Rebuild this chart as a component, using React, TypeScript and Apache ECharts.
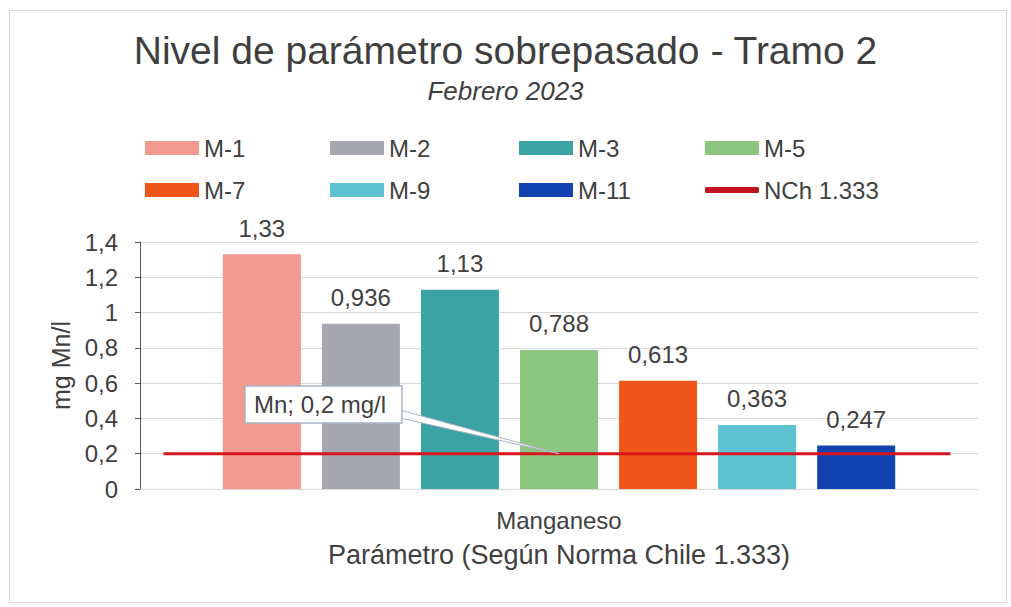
import React, { useEffect, useRef } from "react";
import * as echarts from "echarts";

const categories = ["Manganeso"];
const seriesNames = ["M-1", "M-2", "M-3", "M-5", "M-7", "M-9", "M-11"];
const seriesValues = [1.33, 0.936, 1.13, 0.788, 0.613, 0.363, 0.247];
const seriesLabels = ["1,33", "0,936", "1,13", "0,788", "0,613", "0,363", "0,247"];
const seriesColors = ["#F29990", "#A7A7AF", "#3CA3A4", "#8CC67F", "#F0561A", "#5DC2D2", "#1343B0"];
const normName = "NCh 1.333";
const normValue = 0.2;
const normSpan = [0.028, 0.967];
const calloutText = "Mn; 0,2 mg/l";
const yTicks = { min: 0, max: 1.4, interval: 0.2 };

const FONT = "'Liberation Sans', Arial, sans-serif";

export default function App() {
  const ref = useRef<HTMLDivElement>(null);
  useEffect(() => {
    if (!ref.current) return;
    const chart = echarts.init(ref.current, null, { renderer: "svg" });
    const legendCols = [145, 330, 519, 705];
    const legendRows = [136, 178];
    const allNames = [...seriesNames, normName];
    const legends = allNames.map((n, i) => ({
      data: [n],
      left: legendCols[i % 4],
      top: legendRows[Math.floor(i / 4)],
      padding: 0,
      itemWidth: 54,
      itemHeight: n === normName ? 6 : 14,
      itemGap: 0,
      icon: n === normName ? "roundRect" : "rect",
      textStyle: { fontSize: 24, color: "#404040", fontFamily: FONT },
      selectedMode: false,
    }));
    const bars = seriesNames.map((n, i) => ({
      name: n,
      type: "bar",
      xAxisIndex: 0,
      yAxisIndex: 0,
      data: [seriesValues[i]],
      barWidth: 78,
      barGap: "27%",
      itemStyle: { color: seriesColors[i] },
      label: {
        show: true,
        position: "top",
        distance: 14,
        formatter: () => seriesLabels[i],
        fontSize: 24,
        color: "#404040",
        fontFamily: FONT,
      },
    }));
    chart.setOption({
      animation: false,
      backgroundColor: "#ffffff",
      title: [
        { text: "Nivel de parámetro sobrepasado - Tramo 2", left: "center", top: 31, padding: 0, textStyle: { fontSize: 39, fontWeight: "normal", color: "#3f3f3f", fontFamily: FONT } },
        { text: "Febrero 2023", left: "center", top: 78, padding: 0, textStyle: { fontSize: 26, fontStyle: "italic", fontWeight: "normal", color: "#3f3f3f", fontFamily: FONT } },
      ],
      legend: legends,
      grid: { left: 140, right: 33, top: 242, bottom: 118 },
      xAxis: [
        {
          type: "category",
          data: categories,
          axisLine: { show: true, lineStyle: { color: "#d9d9d9" } },
          axisTick: { show: false },
          axisLabel: { fontSize: 24, color: "#404040", margin: 19, fontFamily: FONT },
          name: "Parámetro (Según Norma Chile 1.333)",
          nameLocation: "middle",
          nameGap: 52,
          nameTextStyle: { fontSize: 27, color: "#404040", fontFamily: FONT },
        },
        { type: "value", min: 0, max: 1, show: false },
      ],
      yAxis: {
        type: "value",
        min: yTicks.min,
        max: yTicks.max,
        interval: yTicks.interval,
        axisLabel: {
          fontSize: 24,
          color: "#404040",
          margin: 22,
          fontFamily: FONT,
          formatter: (v: number) => String(Number(v.toFixed(1))).replace(".", ","),
        },
        splitLine: { lineStyle: { color: "#d9d9d9", width: 1 } },
        name: "mg Mn/l",
        nameLocation: "middle",
        nameGap: 66,
        nameTextStyle: { fontSize: 25, color: "#404040", fontFamily: FONT },
      },
      series: [
        ...bars,
        {
          name: normName,
          type: "line",
          xAxisIndex: 1,
          yAxisIndex: 0,
          data: normSpan.map((x) => [x, normValue]),
          showSymbol: false,
          symbol: "none",
          lineStyle: { color: "#D8151F", width: 3 },
          itemStyle: { color: "#C0141E" },
          z: 5,
        },
      ],
    });
    const tip = chart.convertToPixel({ xAxisIndex: 1, yAxisIndex: 0 } as any, [0.5, normValue]) as number[];
    const bx = 245, by = 386, bw = 157, bh = 37;
    chart.setOption({
      graphic: [
        { type: "rect", left: 7, top: 8, shape: { x: 0, y: 0, width: 997, height: 592 }, style: { fill: "none", stroke: "#d4d6de", lineWidth: 1 }, silent: true },
        { type: "polygon", shape: { points: [[bx + bw - 2, by + 24], [bx + bw - 2, by + 32], [tip[0], tip[1]]] }, style: { fill: "#ffffff", stroke: "#aab2c2", lineWidth: 1 }, z: 10 },
        { type: "rect", shape: { x: bx, y: by, width: bw, height: bh }, style: { fill: "#ffffff", stroke: "#aab2c2", lineWidth: 1.5 }, z: 11 },
        { type: "text", x: bx + 9, y: by + bh / 2, style: { text: calloutText, fontSize: 24, fill: "#404040", fontFamily: FONT, verticalAlign: "middle" }, z: 12 },
      ],
    });
    return () => chart.dispose();
  }, []);
  return <div ref={ref} style={{ position: "fixed", left: 0, top: 0, width: 1011, height: 607 }} />;
}
